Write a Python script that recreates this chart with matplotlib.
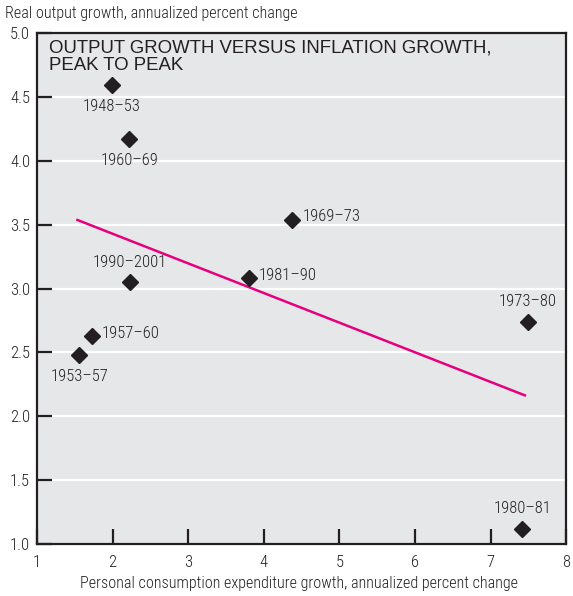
import matplotlib
matplotlib.use("Agg")
import matplotlib.pyplot as plt

NARROW = ['Roboto Condensed', 'DejaVu Sans']
WIDE = ['Liberation Sans', 'DejaVu Sans']
NW = 300

periods = ["1948–53", "1960–69", "1969–73", "1990–2001", "1981–90",
           "1957–60", "1953–57", "1973–80", "1980–81"]
pce_growth = [1.99, 2.22, 4.38, 2.23, 3.81, 1.73, 1.56, 7.49, 7.42]
output_growth = [4.59, 4.17, 3.54, 3.05, 3.08, 2.63, 2.48, 2.74, 1.12]
label_pos = ["below", "below", "right", "above", "right", "right", "below", "above", "above"]

trend_x = [1.52, 7.47]
trend_y = [3.54, 2.16]

x_ticks = [1, 2, 3, 4, 5, 6, 7, 8]
y_ticks = [1.0, 1.5, 2.0, 2.5, 3.0, 3.5, 4.0, 4.5, 5.0]

fig = plt.figure(figsize=(5.73, 5.96), dpi=100)
ax = fig.add_axes([0.0646, 0.0872, 0.9234, 0.8574])
ax.set_facecolor("#e6e7e9")
ax.set_xlim(1, 8)
ax.set_ylim(1.0, 5.0)

for y in y_ticks[1:-1]:
    ax.axhline(y, color="white", lw=1.6, zorder=1)

ax.plot(trend_x, trend_y, color="#e6007e", lw=1.8, zorder=2, solid_capstyle="butt")
ax.plot(pce_growth, output_growth, linestyle="none", marker="D", ms=8.2,
        color="#231f20", zorder=3)

FS = 12
for x, y, t, p in zip(pce_growth, output_growth, periods, label_pos):
    if p == "below":
        ax.annotate(t, (x, y), xytext=(0, -10), textcoords="offset points",
                    ha="center", va="top", fontsize=FS, family=NARROW, weight=NW, color="#231f20")
    elif p == "above":
        ax.annotate(t, (x, y), xytext=(0, 9), textcoords="offset points",
                    ha="center", va="bottom", fontsize=FS, family=NARROW, weight=NW, color="#231f20")
    else:
        ax.annotate(t, (x, y), xytext=(7, 2), textcoords="offset points",
                    ha="left", va="center", fontsize=FS, family=NARROW, weight=NW, color="#231f20")

ax.text(0.022, 0.988, "OUTPUT GROWTH VERSUS INFLATION GROWTH,\nPEAK TO PEAK",
        transform=ax.transAxes, ha="left", va="top", fontsize=13.4, family=WIDE,
        color="#231f20", linespacing=1.1)

ax.set_xticks(x_ticks)
ax.set_yticks(y_ticks)
ax.set_xticklabels([str(v) for v in x_ticks], family=NARROW, fontsize=FS, weight=NW, color="#231f20")
ax.set_yticklabels([f"{v:.1f}" for v in y_ticks], family=NARROW, fontsize=FS, weight=NW, color="#231f20")
ax.tick_params(axis="both", direction="in", length=11, width=1.6, color="#231f20")
ax.tick_params(axis="x", pad=8)
ax.tick_params(axis="y", pad=5)
for s in ax.spines.values():
    s.set_color("#231f20")
    s.set_linewidth(1.6)

fig.text(0.009, 0.978, "Real output growth, annualized percent change", ha="left", va="center",
         fontsize=11.6, family=NARROW, weight=NW, color="#231f20")
fig.text(0.522, 0.021, "Personal consumption expenditure growth, annualized percent change",
         ha="center", va="center", fontsize=11.6, family=NARROW, weight=NW, color="#231f20")

fig.savefig("out.png", dpi=100)
